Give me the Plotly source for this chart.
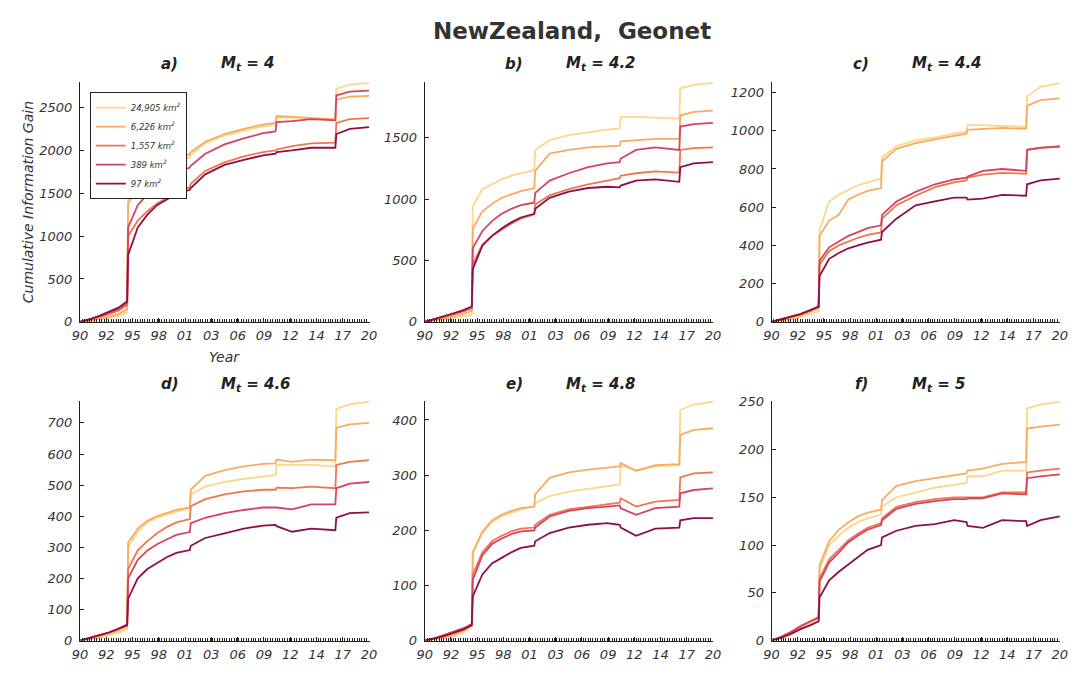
import plotly.graph_objects as go

# ---------------- data ----------------
years = [1990, 1991, 1992, 1993, 1994, 1994.9, 1995.0, 1996, 1997, 1998, 1999, 2000,
         2001.4, 2001.5, 2003, 2005, 2007, 2009, 2010.3, 2010.4, 2012, 2014,
         2016.5, 2016.6, 2018, 2020]

areas = ["24,905 km<sup>2</sup>", "6,226 km<sup>2</sup>", "1,557 km<sup>2</sup>",
         "389 km<sup>2</sup>", "97 km<sup>2</sup>"]
colors = ["#fcd68c", "#f8ab62", "#ee7650", "#d7435f", "#8e1049"]

panel_letters = ["a)", "b)", "c)", "d)", "e)", "f)"]
mt_values = ["4", "4.2", "4.4", "4.6", "4.8", "5"]

x_tickvals = [1990 + i * 30 / 11 for i in range(12)]
x_ticktext = ["90", "92", "95", "98", "01", "03", "06", "09", "12", "14", "17", "20"]

# series order: 24,905 / 6,226 / 1,557 / 389 / 97 km2
panel_a = [
    [0, 10, 25, 45, 70, 110, 1420, 1580, 1660, 1740, 1800, 1860, 1920, 1950, 2080, 2170, 2230, 2280, 2300, 2380, 2385, 2375, 2360, 2720, 2765, 2785],
    [0, 15, 35, 60, 90, 150, 1380, 1560, 1650, 1740, 1810, 1880, 1960, 1980, 2100, 2190, 2250, 2300, 2320, 2400, 2390, 2380, 2360, 2590, 2625, 2635],
    [0, 25, 55, 90, 130, 200, 1000, 1180, 1290, 1380, 1450, 1510, 1570, 1610, 1760, 1860, 1930, 1980, 2000, 2010, 2050, 2080, 2090, 2320, 2365, 2375],
    [0, 30, 65, 105, 150, 220, 1100, 1360, 1490, 1590, 1670, 1740, 1800, 1820, 1960, 2070, 2140, 2200, 2220, 2330, 2340, 2365, 2350, 2640, 2685, 2695],
    [0, 30, 70, 115, 165, 240, 780, 1100, 1250, 1360, 1430, 1490, 1540, 1560, 1720, 1830, 1890, 1940, 1960, 1980, 2000, 2030, 2030, 2190, 2250, 2270],
]
panel_b = [
    [0, 8, 18, 30, 45, 60, 940, 1080, 1120, 1160, 1190, 1210, 1235, 1400, 1480, 1520, 1545, 1565, 1575, 1670, 1670, 1665, 1655, 1900, 1930, 1945],
    [0, 12, 28, 45, 65, 90, 760, 900, 960, 1010, 1040, 1065, 1088, 1230, 1370, 1400, 1420, 1430, 1435, 1470, 1480, 1490, 1490, 1680, 1710, 1720],
    [0, 18, 38, 60, 85, 110, 470, 630, 700, 750, 800, 840, 875, 955, 1030, 1080, 1120, 1150, 1170, 1190, 1210, 1225, 1215, 1400, 1415, 1420],
    [0, 20, 42, 65, 90, 120, 600, 740, 820, 880, 920, 950, 970, 1050, 1150, 1210, 1260, 1290, 1300, 1330, 1400, 1420, 1400, 1590, 1610, 1620],
    [0, 22, 45, 70, 95, 125, 430, 620, 700, 760, 810, 850, 880, 920, 1010, 1060, 1090, 1100, 1095, 1110, 1150, 1160, 1140, 1260, 1290, 1300],
]
panel_c = [
    [0, 5, 12, 25, 40, 55, 480, 630, 665, 690, 715, 730, 750, 860, 920, 950, 965, 985, 995, 1030, 1030, 1025, 1020, 1180, 1230, 1250],
    [0, 8, 18, 32, 50, 70, 450, 530, 560, 640, 665, 685, 700, 840, 905, 935, 955, 975, 985, 1005, 1010, 1015, 1010, 1130, 1160, 1170],
    [0, 12, 25, 40, 60, 80, 300, 370, 400, 420, 440, 455, 468, 540, 610, 660, 705, 730, 740, 755, 770, 780, 775, 900, 912, 915],
    [0, 12, 25, 40, 60, 80, 320, 390, 420, 450, 470, 490, 505, 560, 630, 680, 720, 745, 755, 760, 790, 800, 790, 900, 910, 920],
    [0, 12, 25, 40, 60, 80, 240, 330, 360, 385, 400, 415, 430, 470, 540, 610, 630, 650, 650, 640, 645, 665, 660, 720, 740, 750],
]
panel_d = [
    [0, 4, 10, 18, 25, 35, 300, 350, 380, 395, 405, 415, 425, 470, 495, 510, 520, 528, 532, 565, 565, 565, 560, 745, 760, 768],
    [0, 5, 12, 22, 32, 45, 315, 360, 385, 400, 410, 420, 428, 485, 530, 548, 560, 568, 570, 582, 575, 582, 580, 684, 695, 700],
    [0, 8, 16, 26, 38, 50, 230, 290, 320, 345, 365, 380, 391, 432, 455, 470, 480, 485, 485, 492, 490, 495, 490, 565, 575, 580],
    [0, 8, 16, 26, 38, 52, 200, 260, 290, 310, 325, 340, 349, 378, 395, 410, 420, 428, 428, 428, 422, 438, 438, 490, 505, 510],
    [0, 8, 16, 26, 38, 50, 135, 200, 230, 250, 268, 282, 291, 305, 330, 345, 360, 370, 372, 368, 350, 360, 355, 395, 410, 412],
]
panel_e = [
    [0, 2, 4, 8, 15, 25, 160, 195, 215, 225, 232, 238, 243, 249, 262, 270, 275, 280, 283, 318, 308, 316, 318, 418, 428, 433],
    [0, 3, 6, 10, 18, 28, 160, 198, 218, 228, 235, 240, 243, 265, 295, 305, 310, 314, 316, 322, 308, 318, 320, 373, 382, 385],
    [0, 4, 10, 16, 22, 30, 120, 160, 180, 190, 198, 203, 205, 210, 228, 238, 243, 248, 250, 258, 243, 252, 255, 296, 303, 305],
    [0, 4, 10, 16, 22, 30, 110, 155, 175, 185, 193, 198, 200, 205, 225, 235, 240, 243, 245, 240, 228, 240, 243, 267, 273, 276],
    [0, 4, 8, 14, 20, 28, 80, 120, 140, 150, 160, 168, 172, 180, 195, 205, 210, 213, 210, 205, 190, 203, 205, 218, 222, 222],
]
panel_f = [
    [0, 2, 6, 12, 17, 22, 75, 100, 110, 118, 124, 128, 132, 140, 150, 155, 160, 163, 165, 172, 172, 178, 178, 243, 247, 250],
    [0, 3, 8, 14, 20, 25, 79, 104, 116, 124, 130, 134, 137, 147, 162, 167, 170, 173, 175, 178, 180, 185, 187, 222, 224, 226],
    [0, 4, 9, 15, 20, 24, 65, 85, 95, 105, 112, 118, 123, 128, 140, 145, 148, 150, 150, 150, 150, 155, 155, 176, 178, 180],
    [0, 4, 9, 15, 20, 24, 62, 82, 92, 103, 110, 116, 121, 126, 138, 143, 146, 148, 148, 149, 149, 154, 153, 170, 172, 174],
    [0, 3, 7, 12, 16, 20, 45, 63, 72, 80, 88, 95, 100, 108, 115, 120, 122, 126, 124, 120, 118, 126, 125, 120, 126, 130],
]
panels = [panel_a, panel_b, panel_c, panel_d, panel_e, panel_f]

y_ticks = [
    [0, 500, 1000, 1500, 2000, 2500],
    [0, 500, 1000, 1500],
    [0, 200, 400, 600, 800, 1000, 1200],
    [0, 100, 200, 300, 400, 500, 600, 700],
    [0, 100, 200, 300, 400],
    [0, 50, 100, 150, 200, 250],
]

# ---------------- layout ----------------
W, H = 1082, 675
x_px = [(73, 367), (423, 716), (775, 1068)]
y_px = [(77, 322), (403, 648)]

fig = go.Figure()
tick_font = dict(family="DejaVu Sans", size=13, color="#333333", style="italic")

for i, data in enumerate(panels):
    r, c = divmod(i, 3)
    idx = "" if i == 0 else str(i + 1)
    xa, ya = "x" + idx, "y" + idx
    for k in range(5):
        fig.add_trace(go.Scatter(
            x=years, y=data[k], mode="lines", name=areas[k],
            line=dict(color=colors[k], width=1.8),
            xaxis=xa, yaxis=ya, showlegend=(i == 0),
        ))
    x0, x1 = x_px[c]
    yt, yb = y_px[r]
    ymax = max(max(s) for s in data) * 1.003
    fig.layout["xaxis" + idx] = dict(
        domain=[x0 / W, x1 / W], anchor=ya, range=[1990, 2020.05],
        tickmode="array", tickvals=x_tickvals, ticktext=x_ticktext,
        ticks="inside", ticklen=4, tickcolor="#222", showline=True, linecolor="#222",
        linewidth=1, showgrid=False, zeroline=False, tickfont=tick_font,
        ticklabelstandoff=2,
        minor=dict(tickmode="linear", tick0=1990, dtick=0.25, ticks="inside",
                   ticklen=3, tickcolor="#222", showgrid=False),
    )
    fig.layout["yaxis" + idx] = dict(
        domain=[1 - yb / H, 1 - yt / H], anchor=xa, range=[0, ymax],
        tickmode="array", tickvals=y_ticks[i], ticks="inside", ticklen=4,
        tickcolor="#222", showline=True, linecolor="#222", linewidth=1,
        showgrid=False, zeroline=False, tickfont=tick_font, ticklabelstandoff=4,
    )
    ty = 58 if r == 0 else 386
    fig.add_annotation(x=(x0 + 91) / W, y=1 - ty / H, xref="paper", yref="paper",
                       text="<b><i>" + panel_letters[i] + "</i></b>", showarrow=False,
                       xanchor="center", yanchor="middle",
                       font=dict(family="DejaVu Sans", size=15, color="#222"))
    fig.add_annotation(x=(x0 + 141) / W, y=1 - ty / H, xref="paper", yref="paper",
                       text="<b><i>M<sub>t</sub> = " + mt_values[i] + "</i></b>",
                       showarrow=False, xanchor="left", yanchor="middle",
                       font=dict(family="DejaVu Sans", size=15, color="#222"))

fig.add_annotation(x=572 / W, y=1 - 25 / H, xref="paper", yref="paper",
                   text="<b>NewZealand,  Geonet</b>", showarrow=False,
                   xanchor="center", yanchor="middle",
                   font=dict(family="DejaVu Sans", size=23, color="#333"))
fig.add_annotation(x=20 / W, y=1 - 200 / H, xref="paper", yref="paper",
                   text="<i>Cumulative Information Gain</i>", showarrow=False,
                   textangle=-90, xanchor="center", yanchor="middle",
                   font=dict(family="DejaVu Sans", size=14, color="#333"))
fig.add_annotation(x=220 / W, y=1 - 358 / H, xref="paper", yref="paper",
                   text="<i>Year</i>", showarrow=False,
                   xanchor="center", yanchor="middle",
                   font=dict(family="DejaVu Sans", size=14, color="#333"))

fig.update_layout(
    width=W, height=H, margin=dict(l=0, r=0, t=0, b=0),
    paper_bgcolor="white", plot_bgcolor="white",
    showlegend=True,
    legend=dict(x=83 / W, y=1 - 87 / H, xanchor="left", yanchor="top",
                bgcolor="white", bordercolor="#222", borderwidth=1,
                font=dict(family="DejaVu Sans", size=8.5, color="#333", style="italic"),
                itemwidth=30, tracegroupgap=0),
)

fig.write_html("out.html")
